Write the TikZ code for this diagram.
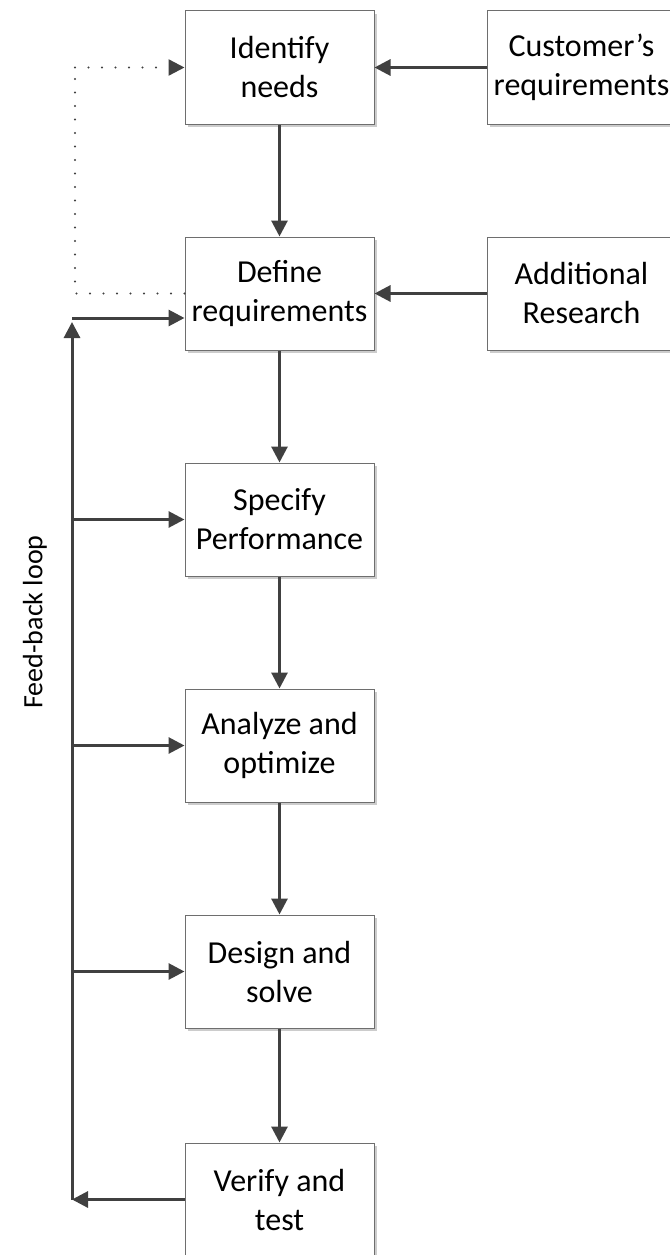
\documentclass[tikz,border=0pt]{standalone}
\usepackage{fontspec}
\setmainfont{Carlito}
\usetikzlibrary{arrows.meta,shadows}
\definecolor{linegray}{HTML}{404040}
\definecolor{boxgray}{HTML}{6E6E6E}
\tikzset{
  stepbox/.style={draw=boxgray, line width=1pt, fill=white, minimum width=189pt,
    minimum height=113pt, align=center, inner sep=2pt,
    font=\fontsize{32}{39}\selectfont,
    drop shadow={shadow xshift=3pt, shadow yshift=-3pt, fill=black!20, opacity=1}},
  flow/.style={draw=linegray, line width=3pt,
    -{Triangle[length=16pt,width=16pt]}},
  dotloop/.style={draw=linegray, line width=2.4pt, line cap=round,
    dash pattern=on 0pt off 13.5pt},
  dotarrow/.style={dotloop, -{Triangle[length=16pt,width=16pt]}}
}
\begin{document}
\begin{tikzpicture}[x=1pt,y=1pt]
\useasboundingbox (0,0) rectangle (669,-1255);
\fill[white] (0,0) rectangle (669,-1255);

% main column
\node[stepbox] (ident)  at (279.5,-67.5)  {Identify\\needs};
\node[stepbox] (define) at (279.5,-293.5) {Define\\requirements};
\node[stepbox] (spec)   at (279.5,-519.5) {Specify\\Performance};
\node[stepbox] (anal)   at (279.5,-745.5) {Analyze and\\optimize};
\node[stepbox] (design) at (279.5,-971.5) {Design and\\solve};
\node[stepbox] (verify) at (279.5,-1199.5) {Verify and\\test};

% inputs on the right
\node[stepbox] (cust) at (581.5,-67.5)  {Customer’s\\requirements};
\node[stepbox] (res)  at (581.5,-293.5) {Additional\\Research};

% forward flow
\draw[flow] (ident) -- (define);
\draw[flow] (define) -- (spec);
\draw[flow] (spec) -- (anal);
\draw[flow] (anal) -- (design);
\draw[flow] (design) -- (verify);
\draw[flow] (cust) -- (ident);
\draw[flow] (res) -- (define);

% dotted return to the first step
\coordinate (dotlow) at (75,-293.5);
\coordinate (dothigh) at (75,-67.5);
\draw[dotloop] (define.west) -- (dotlow) -- (dothigh);
\draw[dotarrow] (dothigh) -- (ident.west);

% feed-back loop
\coordinate (fbbot) at (72,-1199.5);
\coordinate (fbtop) at (72,-318);
\draw[flow] (verify.west) -- (fbbot);
\draw[flow] (fbbot) -- ([yshift=-4pt]fbtop);
\draw[flow] (fbtop) -- (fbtop -| define.west);
\draw[flow] (spec.west -| fbbot) -- (spec.west);
\draw[flow] (anal.west -| fbbot) -- (anal.west);
\draw[flow] (design.west -| fbbot) -- (design.west);

\node[rotate=90, font=\fontsize{28}{32}\selectfont] (fblabel) at (35,-622) {Feed-back loop};
\end{tikzpicture}
\end{document}
